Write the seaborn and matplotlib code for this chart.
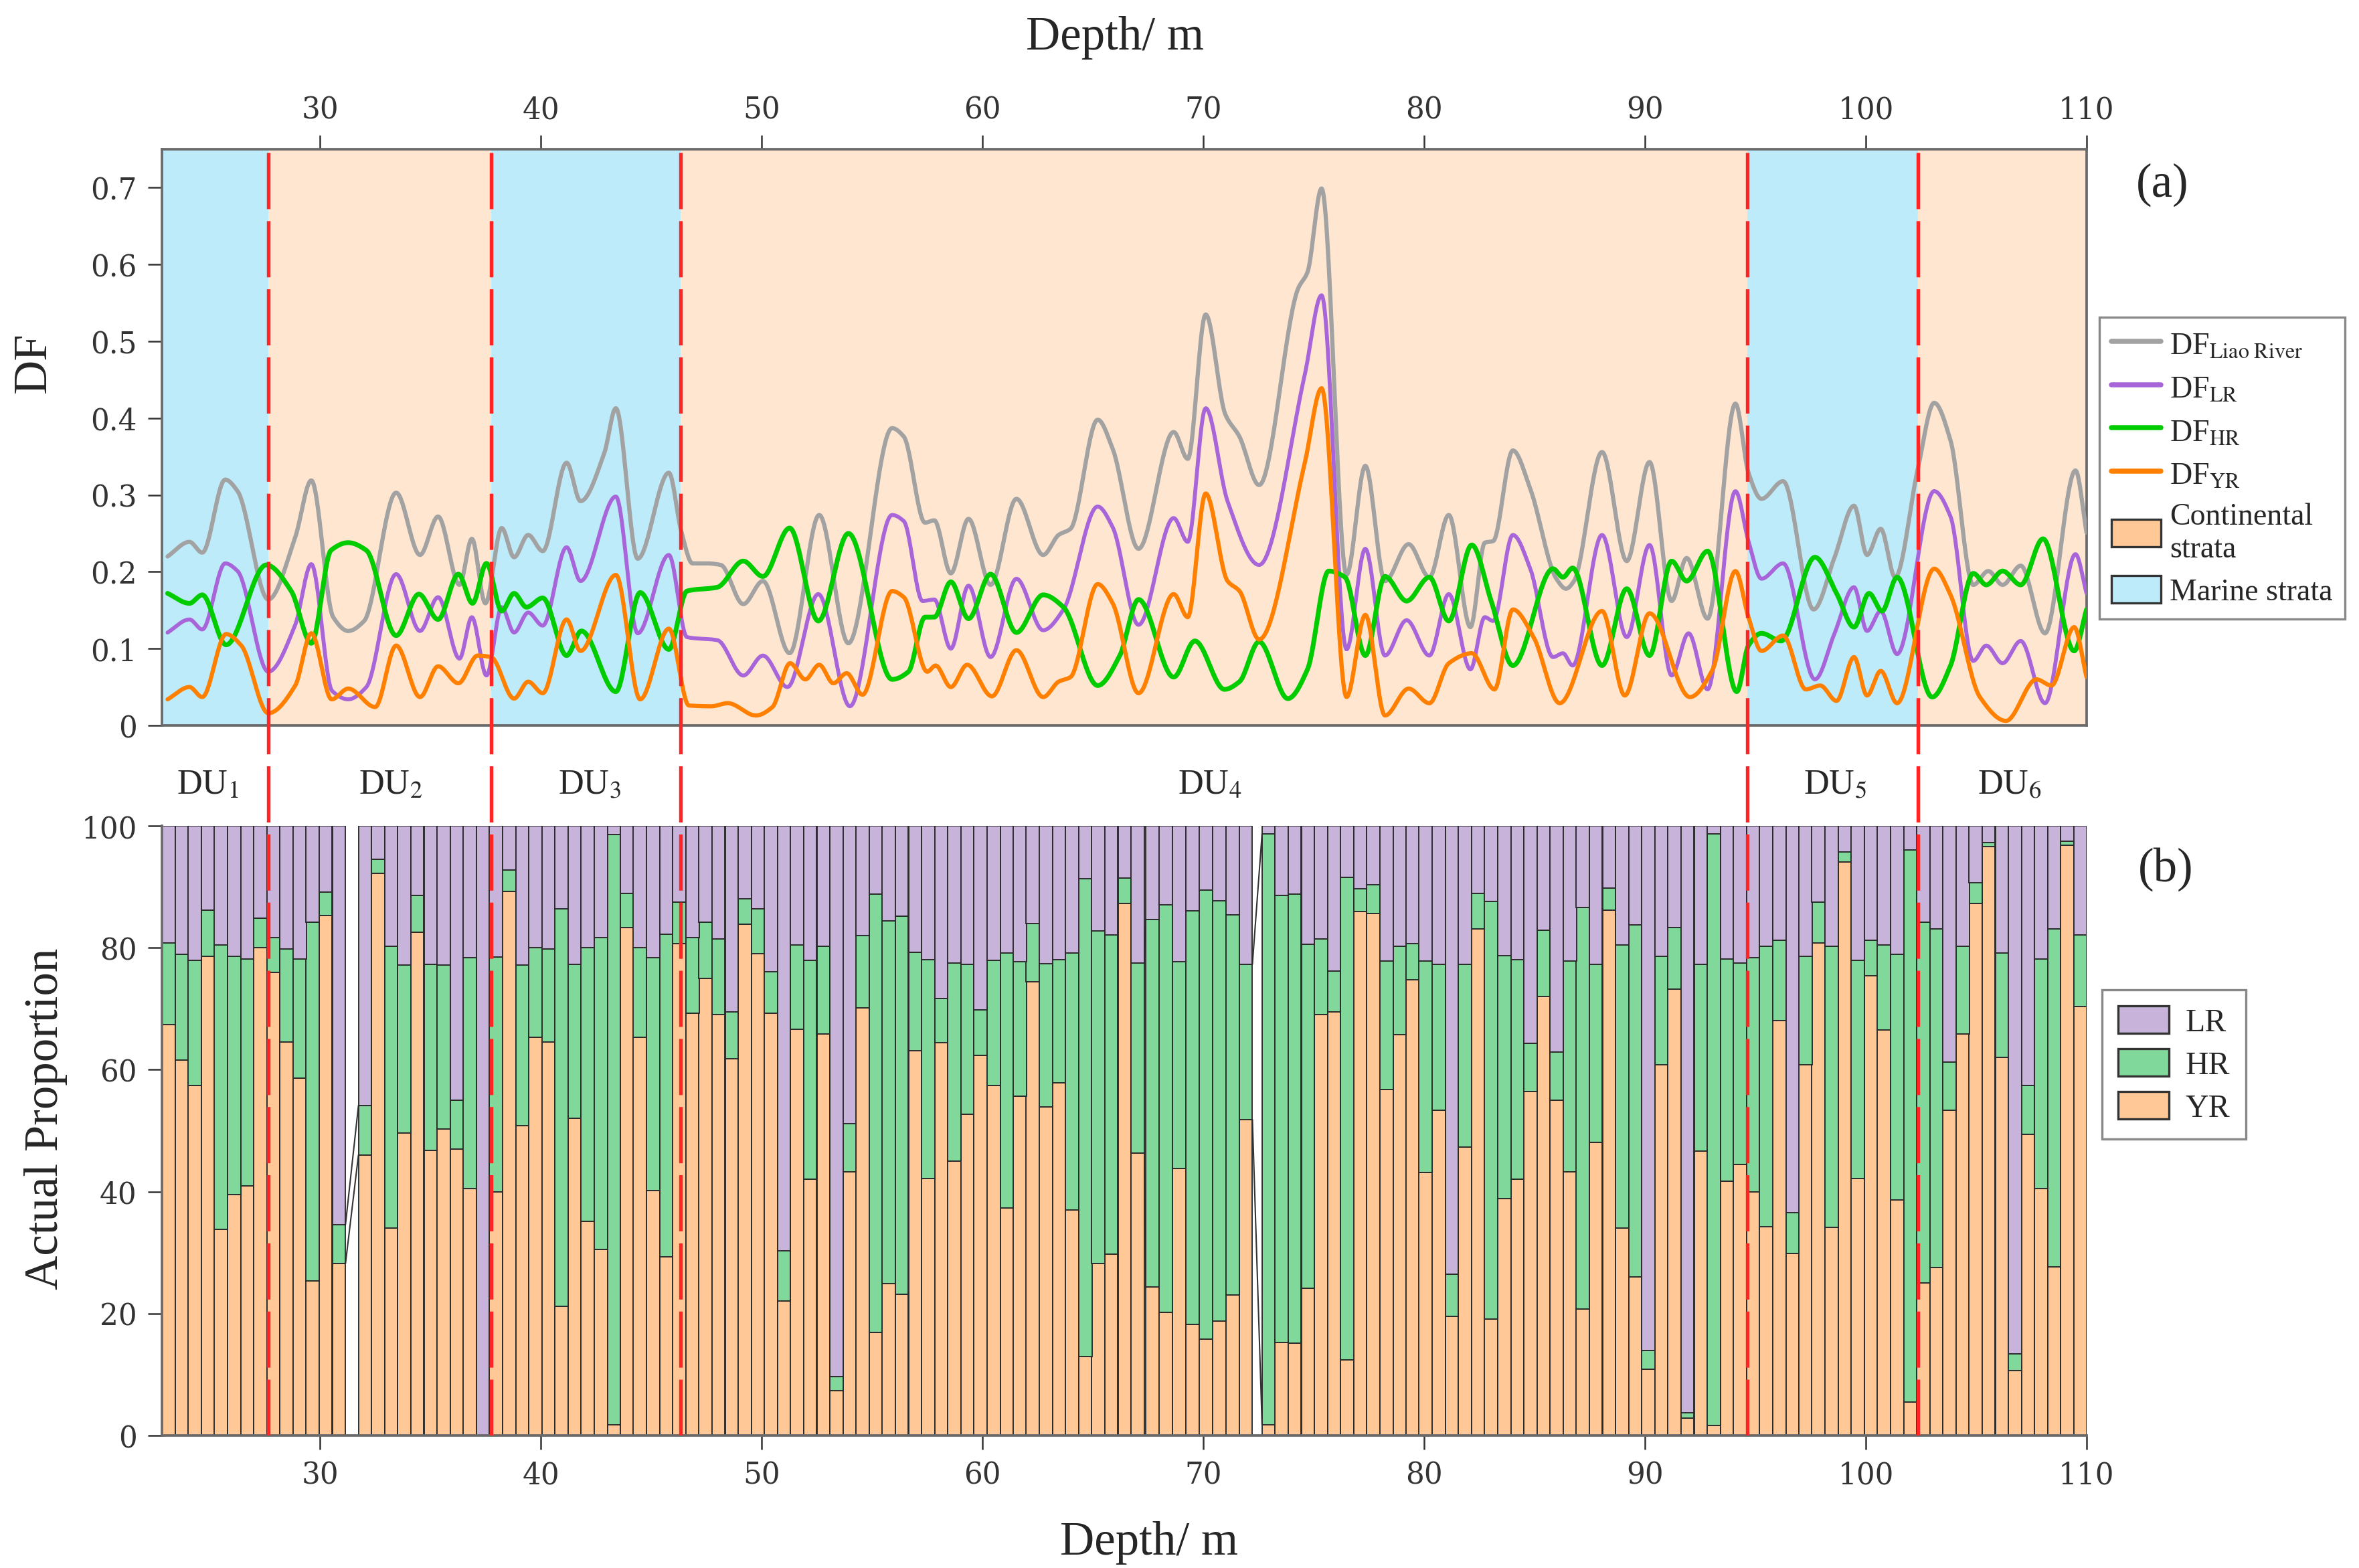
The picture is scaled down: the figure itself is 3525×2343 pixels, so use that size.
import numpy as np
import matplotlib
matplotlib.use("Agg")
import matplotlib.pyplot as plt
import seaborn as sns
from matplotlib.lines import Line2D
from matplotlib.patches import Patch

sns.set_theme(style="ticks")
plt.rcParams['font.family'] = ['DejaVu Serif']
plt.rcParams['mathtext.fontset'] = 'stix'

# ---------------- data: DF curves (knots) ----------------
liao_depth = [23.1, 24.09, 24.67, 25.71, 26.27, 27.66, 28.88, 29.61, 30.6, 31.28, 32.0, 33.45, 34.53, 35.35,
              36.32, 36.88, 37.49, 38.23, 38.79, 39.43, 40.09, 41.17, 41.80, 42.88, 43.40, 44.39, 45.80, 46.36,
              46.87, 47.51, 48.15, 49.17, 50.06, 51.27, 52.61, 53.93, 55.91, 56.44, 57.40, 57.82, 58.57, 59.37,
              60.37, 61.54, 62.75, 63.45, 63.99, 65.22, 65.9, 67.07, 68.66, 69.30, 70.11, 71.0, 71.64, 72.53,
              74.3, 74.72, 75.36, 76.49, 77.34, 78.23, 79.3, 80.24, 81.12, 82.1, 82.75, 83.13, 84.02, 84.81,
              85.99, 86.43, 86.79, 88.06, 89.18, 90.21, 91.21, 91.89, 92.84, 94.10, 94.69, 95.28, 96.26, 97.64,
              98.59, 99.47, 100.06, 100.68, 101.33, 102.36, 103.1, 103.84, 104.87, 105.55, 106.2, 107.02, 108.12,
              109.5, 110.0]
liao_df = [0.220, 0.239, 0.225, 0.320, 0.305, 0.164, 0.245, 0.319, 0.141, 0.123, 0.136, 0.303, 0.222, 0.272,
           0.183, 0.243, 0.159, 0.257, 0.219, 0.248, 0.227, 0.342, 0.292, 0.355, 0.413, 0.217, 0.329, 0.253,
           0.211, 0.211, 0.209, 0.158, 0.188, 0.094, 0.274, 0.107, 0.387, 0.376, 0.264, 0.267, 0.198, 0.269,
           0.183, 0.295, 0.222, 0.248, 0.256, 0.398, 0.360, 0.230, 0.382, 0.347, 0.535, 0.405, 0.376, 0.313,
           0.569, 0.590, 0.699, 0.196, 0.338, 0.188, 0.236, 0.193, 0.274, 0.128, 0.238, 0.240, 0.358, 0.308,
           0.191, 0.178, 0.188, 0.356, 0.214, 0.343, 0.162, 0.218, 0.139, 0.419, 0.329, 0.295, 0.318, 0.151,
           0.219, 0.286, 0.222, 0.256, 0.193, 0.334, 0.420, 0.371, 0.183, 0.201, 0.183, 0.208, 0.120,
           0.332, 0.251]

lr_depth = [23.1, 24.09, 24.67, 25.71, 26.27, 27.66, 28.88, 29.61, 30.55, 31.28, 32.1, 33.45, 34.53, 35.35,
            36.32, 36.88, 37.54, 38.23, 38.79, 39.43, 40.09, 41.17, 41.80, 43.40, 44.39, 45.80, 46.62, 48.0,
            49.17, 50.06, 51.17, 52.57, 54.0, 55.91, 56.44, 57.29, 57.82, 58.57, 59.37, 60.37, 61.54, 62.75,
            63.67, 65.22, 65.9, 67.07, 68.66, 69.30, 70.11, 71.1, 72.53, 74.6, 75.36, 76.49, 77.34, 78.23,
            79.21, 80.24, 81.12, 82.1, 82.75, 83.13, 84.02, 84.81, 85.84, 86.29, 86.73, 88.06, 89.18, 90.21,
            91.21, 91.98, 92.84, 94.10, 94.69, 95.28, 96.26, 97.7, 98.59, 99.47, 100.06, 100.68, 101.42, 103.1,
            103.84, 104.87, 105.46, 106.2, 107.02, 108.12, 109.5, 110.0]
lr_df = [0.121, 0.138, 0.125, 0.211, 0.201, 0.070, 0.131, 0.210, 0.045, 0.034, 0.050, 0.197, 0.123, 0.167,
         0.087, 0.141, 0.065, 0.154, 0.121, 0.147, 0.130, 0.232, 0.188, 0.298, 0.120, 0.222, 0.115, 0.111,
         0.065, 0.091, 0.050, 0.171, 0.025, 0.274, 0.266, 0.162, 0.164, 0.100, 0.182, 0.089, 0.191, 0.124,
         0.151, 0.285, 0.258, 0.131, 0.270, 0.239, 0.413, 0.292, 0.209, 0.457, 0.560, 0.099, 0.230, 0.091,
         0.137, 0.091, 0.171, 0.073, 0.141, 0.136, 0.248, 0.204, 0.089, 0.094, 0.078, 0.248, 0.115, 0.235,
         0.065, 0.120, 0.047, 0.305, 0.240, 0.191, 0.211, 0.060, 0.120, 0.180, 0.123, 0.149, 0.093, 0.305,
         0.272, 0.084, 0.104, 0.081, 0.110, 0.029, 0.223, 0.172]

hr_depth = [23.1, 24.09, 24.67, 25.75, 27.57, 28.7, 29.61, 30.5, 31.28, 32.1, 33.45, 34.48, 35.35, 36.27,
            36.91, 37.54, 38.23, 38.79, 39.35, 40.09, 41.17, 41.84, 43.40, 44.50, 45.80, 46.62, 48.0, 49.17,
            50.06, 51.27, 52.57, 53.93, 55.91, 56.65, 57.40, 57.82, 58.57, 59.37, 60.37, 61.54, 62.75, 63.67,
            65.22, 66.22, 67.07, 68.66, 69.62, 70.96, 71.64, 72.53, 73.83, 74.72, 75.68, 76.42, 77.34, 78.23,
            79.21, 80.24, 81.12, 82.16, 83.04, 84.02, 85.84, 86.29, 86.73, 88.06, 89.18, 90.21, 91.21, 91.89,
            92.84, 94.16, 94.69, 95.28, 96.17, 97.7, 98.68, 99.47, 100.15, 100.74, 101.42, 103.01, 103.84,
            104.87, 105.46, 106.2, 107.02, 108.03, 109.44, 110.0]
hr_df = [0.172, 0.159, 0.170, 0.105, 0.209, 0.175, 0.107, 0.228, 0.238, 0.228, 0.117, 0.171, 0.138, 0.197,
         0.159, 0.211, 0.149, 0.172, 0.154, 0.166, 0.091, 0.123, 0.044, 0.173, 0.099, 0.175, 0.180, 0.214,
         0.194, 0.257, 0.136, 0.250, 0.060, 0.070, 0.141, 0.141, 0.187, 0.139, 0.197, 0.121, 0.170, 0.154,
         0.052, 0.091, 0.164, 0.063, 0.110, 0.047, 0.057, 0.109, 0.035, 0.073, 0.201, 0.193, 0.091, 0.194,
         0.162, 0.193, 0.136, 0.235, 0.162, 0.078, 0.204, 0.193, 0.205, 0.078, 0.178, 0.091, 0.214, 0.188,
         0.227, 0.044, 0.104, 0.120, 0.110, 0.219, 0.172, 0.128, 0.172, 0.149, 0.193, 0.037, 0.078,
         0.198, 0.183, 0.201, 0.183, 0.243, 0.097, 0.151]

yr_depth = [23.1, 24.09, 24.67, 25.75, 26.44, 27.66, 28.88, 29.61, 30.53, 31.28, 32.5, 33.45, 34.53, 35.35,
            36.27, 37.14, 37.75, 38.79, 39.43, 40.09, 41.17, 41.80, 43.40, 44.50, 45.80, 46.71, 47.72, 48.47,
            49.74, 50.49, 51.29, 51.98, 52.61, 53.25, 53.85, 54.57, 55.91, 56.44, 57.5, 57.88, 58.57, 59.31,
            60.43, 61.54, 62.75, 63.45, 63.99, 65.22, 65.9, 67.07, 68.66, 69.30, 70.11, 71.1, 71.64, 72.53,
            74.6, 75.36, 76.49, 77.34, 78.23, 79.3, 80.24, 81.12, 82.16, 83.19, 84.02, 84.96, 86.14, 88.06,
            89.09, 90.21, 92.04, 93.07, 94.10, 94.69, 95.28, 96.26, 97.29, 97.94, 98.68, 99.47, 100.06, 100.68,
            101.42, 103.1, 103.84, 105.17, 106.35, 107.73, 108.41, 109.44, 110.0]
yr_df = [0.034, 0.050, 0.037, 0.119, 0.104, 0.016, 0.052, 0.120, 0.034, 0.048, 0.024, 0.104, 0.037, 0.077,
         0.055, 0.091, 0.089, 0.035, 0.057, 0.042, 0.138, 0.097, 0.196, 0.034, 0.126, 0.026, 0.025, 0.029,
         0.013, 0.024, 0.081, 0.060, 0.079, 0.055, 0.068, 0.040, 0.175, 0.167, 0.070, 0.078, 0.050, 0.079,
         0.038, 0.098, 0.037, 0.057, 0.063, 0.184, 0.159, 0.042, 0.171, 0.141, 0.302, 0.188, 0.175, 0.112,
         0.342, 0.439, 0.037, 0.144, 0.013, 0.048, 0.029, 0.081, 0.094, 0.047, 0.151, 0.115, 0.029, 0.149,
         0.039, 0.146, 0.037, 0.073, 0.201, 0.141, 0.097, 0.117, 0.047, 0.052, 0.032, 0.089, 0.039, 0.071,
         0.029, 0.204, 0.170, 0.037, 0.006, 0.060, 0.052, 0.128, 0.063]

# ---------------- data: proportions per sample ----------------
sample_depth = [23.15, 23.74, 24.33, 24.93, 25.52, 26.11, 26.71, 27.30, 27.89, 28.48, 29.08, 29.67, 30.26, 30.86,
                32.04, 32.64, 33.23, 33.82, 34.41, 35.01, 35.60, 36.19, 36.79, 37.38, 37.97, 38.57, 39.16, 39.75,
                40.34, 40.94, 41.53, 42.12, 42.72, 43.31, 43.90, 44.49, 45.09, 45.68, 46.27, 46.87, 47.46, 48.05,
                48.65, 49.24, 49.83, 50.42, 51.02, 51.61, 52.20, 52.80, 53.39, 53.98, 54.58, 55.17, 55.76, 56.35,
                56.95, 57.54, 58.13, 58.73, 59.32, 59.91, 60.51, 61.10, 61.69, 62.28, 62.88, 63.47, 64.06, 64.66,
                65.25, 65.84, 66.44, 67.03,
                67.70, 68.31, 68.91, 69.52, 70.12, 70.72, 71.33, 71.93,
                72.96, 73.55, 74.14, 74.74, 75.33, 75.92, 76.52, 77.11, 77.70, 78.30, 78.89, 79.48, 80.07, 80.67,
                81.26, 81.85, 82.45, 83.04, 83.63, 84.23, 84.82, 85.41, 86.00, 86.60, 87.19, 87.78, 88.38, 88.97,
                89.56, 90.16, 90.75, 91.34, 91.93, 92.53, 93.12, 93.71, 94.31, 94.90, 95.49, 96.09, 96.68, 97.27,
                97.86, 98.46, 99.05, 99.64, 100.24, 100.83, 101.42, 102.02, 102.61, 103.20, 103.79, 104.39, 104.98,
                105.57, 106.17, 106.76, 107.35, 107.95, 108.54, 109.13, 109.72]

# YR share (%) and cumulative YR+HR (%), LR fills the rest up to 100
yr_pct = [67.4, 61.6, 57.4, 78.6, 33.8, 39.5, 40.9, 80.0, 76.0, 64.5,
          58.6, 25.4, 85.3, 28.2, 46.0, 92.2, 34.0, 49.6, 82.6, 46.8,
          50.3, 47.0, 40.5, 0.0, 40.0, 89.3, 50.8, 65.3, 64.5, 21.2,
          52.0, 35.1, 30.5, 1.8, 83.3, 65.3, 40.2, 29.3, 80.7, 69.3,
          75.0, 69.0, 61.8, 83.9, 79.0, 69.3, 22.1, 66.6, 42.0, 65.9,
          7.4, 43.2, 70.1, 16.9, 24.9, 23.2, 63.1, 42.2, 64.4, 45.0,
          52.7, 62.4, 57.4, 37.3, 55.7, 74.4, 53.9, 57.8, 37.0, 12.9,
          28.2, 29.7, 87.3, 46.3, 24.4, 20.2, 43.8, 18.2, 15.8, 18.8,
          23.0, 51.8, 1.8, 15.2, 15.1, 24.2, 69.0, 69.5, 12.4, 85.9,
          85.6, 56.7, 65.8, 74.8, 43.1, 53.4, 19.5, 47.3, 83.1, 19.1,
          38.9, 42.0, 56.4, 72.0, 55.0, 43.3, 20.7, 48.1, 86.2, 34.0,
          26.0, 10.9, 60.8, 73.2, 2.9, 46.6, 1.6, 41.7, 44.5, 40.0,
          34.2, 68.1, 29.9, 60.8, 80.8, 34.1, 94.1, 42.2, 75.4, 66.5,
          38.6, 5.5, 25.0, 27.5, 53.4, 65.9, 87.3, 96.6, 62.0, 10.6,
          49.4, 40.5, 27.7, 96.8, 70.4]
yr_hr_pct = [80.8, 78.9, 77.9, 86.2, 80.5, 78.6, 78.2, 84.9, 81.7, 79.8,
             78.2, 84.2, 89.1, 34.6, 54.1, 94.5, 80.3, 77.2, 88.6, 77.3,
             77.2, 55.0, 78.4, 0.0, 78.5, 92.8, 77.2, 80.0, 79.8, 86.4,
             77.3, 80.0, 81.7, 98.6, 88.9, 80.0, 78.4, 82.2, 87.5, 81.7,
             84.2, 81.5, 69.5, 88.0, 86.4, 76.1, 30.3, 80.5, 77.9, 80.3,
             9.7, 51.1, 82.0, 88.8, 84.4, 85.2, 79.3, 78.0, 71.7, 77.5,
             77.3, 69.8, 77.9, 79.2, 77.7, 84.0, 77.4, 78.0, 79.2, 91.3,
             82.8, 82.1, 91.4, 77.5, 84.6, 87.1, 77.7, 86.1, 89.5, 87.7,
             85.4, 77.3, 98.7, 88.6, 88.8, 80.6, 81.5, 76.2, 91.6, 89.7,
             90.4, 77.8, 80.2, 80.7, 77.8, 77.3, 26.4, 77.3, 88.9, 87.6,
             78.7, 78.0, 64.3, 82.9, 62.9, 77.8, 86.6, 77.3, 89.8, 80.5,
             83.8, 13.9, 78.6, 83.3, 3.7, 77.3, 98.7, 78.2, 77.5, 78.4,
             80.2, 81.2, 36.6, 78.6, 87.5, 80.3, 95.7, 77.9, 81.2, 80.5,
             78.9, 96.1, 84.2, 83.1, 61.3, 80.3, 90.7, 97.3, 79.1, 13.4,
             57.4, 78.2, 83.1, 97.5, 82.1]

unit_bounds = [27.66, 37.75, 46.34, 94.63, 102.36]
strata = ["marine", "continental", "marine", "continental", "marine", "continental"]
du_labels = ["DU$_1$", "DU$_2$", "DU$_3$", "DU$_4$", "DU$_5$", "DU$_6$"]
du_pos = [24.9, 33.2, 42.2, 70.3, 98.6, 106.5]

# ---------------- styles ----------------
c_grey, c_lr, c_hr, c_yr = "#A2A2A2", "#A765D9", "#00CC00", "#FF8000"
bar_lr, bar_hr, bar_yr = "#C8B4DA", "#80D99B", "#FFC896"
marine_bg, cont_bg = "#BEEBFA", "#FFE6D1"
xmin, xmax = 22.85, 110.0
bar_w = 0.593
serif = "Liberation Serif"


def smooth(xk, yk, n=2500):
    # monotone cubic (pchip) curve through the knots, for a smooth line
    xk = np.asarray(xk, float)
    yk = np.asarray(yk, float)
    h = np.diff(xk)
    d = np.diff(yk) / h
    m = np.zeros_like(yk)
    for i in range(1, len(yk) - 1):
        if d[i - 1] * d[i] > 0:
            w1 = 2 * h[i] + h[i - 1]
            w2 = h[i] + 2 * h[i - 1]
            m[i] = (w1 + w2) / (w1 / d[i - 1] + w2 / d[i])
    m[0], m[-1] = d[0], d[-1]
    xs = np.linspace(xk[0], xk[-1], n)
    idx = np.clip(np.searchsorted(xk, xs) - 1, 0, len(h) - 1)
    t = (xs - xk[idx]) / h[idx]
    ys = ((2 * t**3 - 3 * t**2 + 1) * yk[idx] + (t**3 - 2 * t**2 + t) * h[idx] * m[idx]
          + (-2 * t**3 + 3 * t**2) * yk[idx + 1] + (t**3 - t**2) * h[idx] * m[idx + 1])
    return xs, ys


fig = plt.figure(figsize=(11.75, 7.8133), dpi=300)
ax_a = fig.add_axes([0.0687, 0.5371, 0.8158, 0.3673])
ax_b = fig.add_axes([0.0687, 0.0845, 0.8158, 0.3886])

# ---- panel (a) ----
edges = [xmin] + unit_bounds + [xmax]
for lo, hi, s in zip(edges[:-1], edges[1:], strata):
    ax_a.axvspan(lo, hi, color=marine_bg if s == "marine" else cont_bg, lw=0, zorder=0)

for xk, yk, col, lw in [(liao_depth, liao_df, c_grey, 1.5), (lr_depth, lr_df, c_lr, 1.4),
                        (hr_depth, hr_df, c_hr, 1.7), (yr_depth, yr_df, c_yr, 1.5)]:
    xs, ys = smooth(xk, yk)
    sns.lineplot(x=xs, y=ys, ax=ax_a, color=col, linewidth=lw, zorder=3)

ax_a.set_xlim(xmin, xmax)
ax_a.set_ylim(0, 0.75)
ax_a.set_xticks(range(30, 111, 10))
ax_a.set_yticks(np.arange(0, 0.71, 0.1))
ax_a.set_yticklabels(["0" if i == 0 else f"0.{i}" for i in range(8)])
ax_a.tick_params(axis="x", bottom=False, labelbottom=False, top=True, labeltop=True)
ax_a.tick_params(direction="out", length=5, width=0.6, colors="#333333", labelsize=10.5, pad=4)
for sp in ax_a.spines.values():
    sp.set_color("#6a6a6a")
    sp.set_linewidth(0.9)
ax_a.set_xlabel("")
ax_a.set_ylabel("")

# ---- panel (b) ----
yr = np.array(yr_pct)
yr_hr = np.array(yr_hr_pct)
ax_b.bar(sample_depth, yr, width=bar_w, color=bar_yr, edgecolor="#2a2a2a", linewidth=0.45, zorder=2)
ax_b.bar(sample_depth, yr_hr - yr, bottom=yr, width=bar_w, color=bar_hr, edgecolor="#2a2a2a",
         linewidth=0.45, zorder=2)
ax_b.bar(sample_depth, 100 - yr_hr, bottom=yr_hr, width=bar_w, color=bar_lr, edgecolor="#2a2a2a",
         linewidth=0.45, zorder=2)

# thin connectors across the missing samples
for i in range(len(sample_depth) - 1):
    if sample_depth[i + 1] - sample_depth[i] > bar_w * 1.05:
        x0 = sample_depth[i] + bar_w / 2
        x1 = sample_depth[i + 1] - bar_w / 2
        ax_b.plot([x0, x1], [yr[i], yr[i + 1]], color="#333333", lw=0.5, zorder=1)
        ax_b.plot([x0, x1], [yr_hr[i], yr_hr[i + 1]], color="#333333", lw=0.5, zorder=1)

ax_b.set_xlim(xmin, xmax)
ax_b.set_ylim(0, 100)
ax_b.set_xticks(range(30, 111, 10))
ax_b.set_yticks(range(0, 101, 20))
ax_b.tick_params(direction="out", length=5, width=0.6, colors="#333333", labelsize=10.5, pad=4)
ax_b.spines["top"].set_visible(False)
ax_b.spines["right"].set_visible(False)
for sp in ["left", "bottom"]:
    ax_b.spines[sp].set_color("#6a6a6a")
    ax_b.spines[sp].set_linewidth(0.9)

for lab, x in zip(du_labels, du_pos):
    ax_b.text(x, 106.8, lab, ha="center", va="center", fontsize=12.5, family=serif, clip_on=False)

# ---- red boundaries through both panels ----
ax_r = fig.add_axes([0.0687, 0.0845, 0.8158, 0.8199], facecolor="none")
ax_r.set_xlim(xmin, xmax)
ax_r.set_ylim(0, 1)
ax_r.axis("off")
ax_r.vlines(unit_bounds, 0, 1, colors="#FF2525", linestyles=(0, (15.5, 3.3)), linewidth=1.3, zorder=5)

# ---- texts ----
fig.text(0.4726, 0.9757, "Depth/ m", ha="center", va="center", fontsize=17, family=serif)
fig.text(0.487, 0.0166, "Depth/ m", ha="center", va="center", fontsize=17, family=serif)
fig.text(0.0142, 0.7688, "DF", rotation=90, ha="center", va="center", fontsize=17, family=serif)
fig.text(0.0193, 0.2867, "Actual Proportion", rotation=90, ha="center", va="center", fontsize=17, family=serif)
fig.text(0.9166, 0.8823, "(a)", ha="center", va="center", fontsize=17, family=serif)
fig.text(0.918, 0.4458, "(b)", ha="center", va="center", fontsize=17, family=serif)

# ---- legends ----
h1 = [Line2D([], [], color=c_grey, lw=1.8), Line2D([], [], color=c_lr, lw=1.8),
      Line2D([], [], color=c_hr, lw=1.8), Line2D([], [], color=c_yr, lw=1.8),
      Patch(facecolor=bar_yr, edgecolor="#333333", lw=0.8),
      Patch(facecolor=marine_bg, edgecolor="#333333", lw=0.8)]
l1 = [r"DF$_{\mathrm{Liao\ River}}$", r"DF$_{\mathrm{LR}}$", r"DF$_{\mathrm{HR}}$", r"DF$_{\mathrm{YR}}$",
      "Continental\nstrata", "Marine strata"]
leg1 = fig.legend(h1, l1, loc="upper left", bbox_to_anchor=(0.8899, 0.7974), frameon=True, fancybox=False,
                  prop={"family": serif, "size": 11}, handlelength=1.6, handleheight=1.0, handletextpad=0.3,
                  labelspacing=0.4, borderpad=0.4, borderaxespad=0, edgecolor="#888888", framealpha=1)
leg1.get_frame().set_linewidth(0.8)

h2 = [Patch(facecolor=bar_lr, edgecolor="#333333", lw=0.8),
      Patch(facecolor=bar_hr, edgecolor="#333333", lw=0.8),
      Patch(facecolor=bar_yr, edgecolor="#333333", lw=0.8)]
leg2 = fig.legend(h2, ["LR", "HR", "YR"], loc="upper left", bbox_to_anchor=(0.891, 0.3686), frameon=True,
                  fancybox=False, prop={"family": serif, "size": 11.5}, handlelength=1.6, handleheight=0.95,
                  handletextpad=0.5, labelspacing=0.35, borderpad=0.5, borderaxespad=0, edgecolor="#888888",
                  framealpha=1)
leg2.get_frame().set_linewidth(0.8)

fig.savefig("out.png", dpi=300)
